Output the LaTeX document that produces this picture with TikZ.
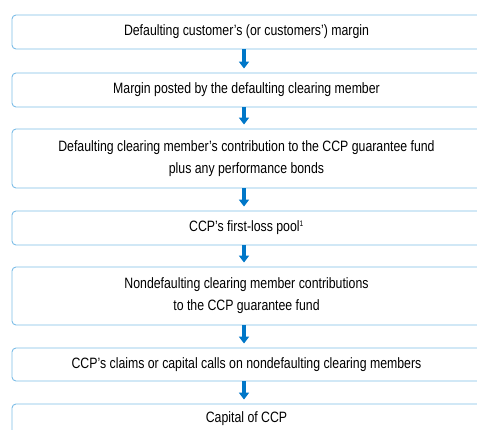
\documentclass[tikz,border=0pt]{standalone}
\usepackage{fontspec}
\setmainfont{Liberation Sans}[FakeStretch=0.82]
\usepackage{tikz}
\usetikzlibrary{arrows.meta}
\definecolor{boxline}{RGB}{125,189,230}
\definecolor{flowblue}{RGB}{0,119,200}

\begin{document}
\begin{tikzpicture}[x=1pt, y=-1pt,
  every node/.style={font=\fontsize{15}{22}\selectfont},
  tier/.style={draw=boxline, line width=0.9pt, rounded corners=4pt, minimum width=469pt, align=center, inner sep=0pt},
  flow/.style={draw=flowblue, line width=3.6pt, -{Triangle[width=10pt,length=7pt]}, shorten >=4pt}]
  \useasboundingbox (0,0) rectangle (477,430);
  \clip (0,0) rectangle (477,430);
  \node[tier, minimum height=34pt] (margin) at (246.5,32) {Defaulting customer’s (or customers’) margin};
  \node[tier, minimum height=34pt] (posted) at (246.5,90) {Margin posted by the defaulting clearing member};
  \node[tier, minimum height=59pt] (fund) at (246.5,158.5) {Defaulting clearing member’s contribution to the CCP guarantee fund\\plus any performance bonds};
  \node[tier, minimum height=34pt] (pool) at (246.5,228) {CCP’s first-loss pool\textsuperscript{\fontsize{8}{8}\selectfont 1}};
  \node[tier, minimum height=58pt] (others) at (246.5,296) {Nondefaulting clearing member contributions\\to the CCP guarantee fund};
  \node[tier, minimum height=33pt] (calls) at (246.5,364.5) {CCP’s claims or capital calls on nondefaulting clearing members};
  \node[tier, minimum height=30pt] (capital) at (246.5,419) {Capital of CCP};
  % loss waterfall
  \draw[flow] ([xshift=-2.5pt]margin.south) -- ([xshift=-2.5pt]posted.north);
  \draw[flow] ([xshift=-2.5pt]posted.south) -- ([xshift=-2.5pt]fund.north);
  \draw[flow] ([xshift=-2.5pt]fund.south) -- ([xshift=-2.5pt]pool.north);
  \draw[flow] ([xshift=-2.5pt]pool.south) -- ([xshift=-2.5pt]others.north);
  \draw[flow] ([xshift=-2.5pt]others.south) -- ([xshift=-2.5pt]calls.north);
  \draw[flow] ([xshift=-2.5pt]calls.south) -- ([xshift=-2.5pt]capital.north);
\end{tikzpicture}
\end{document}
